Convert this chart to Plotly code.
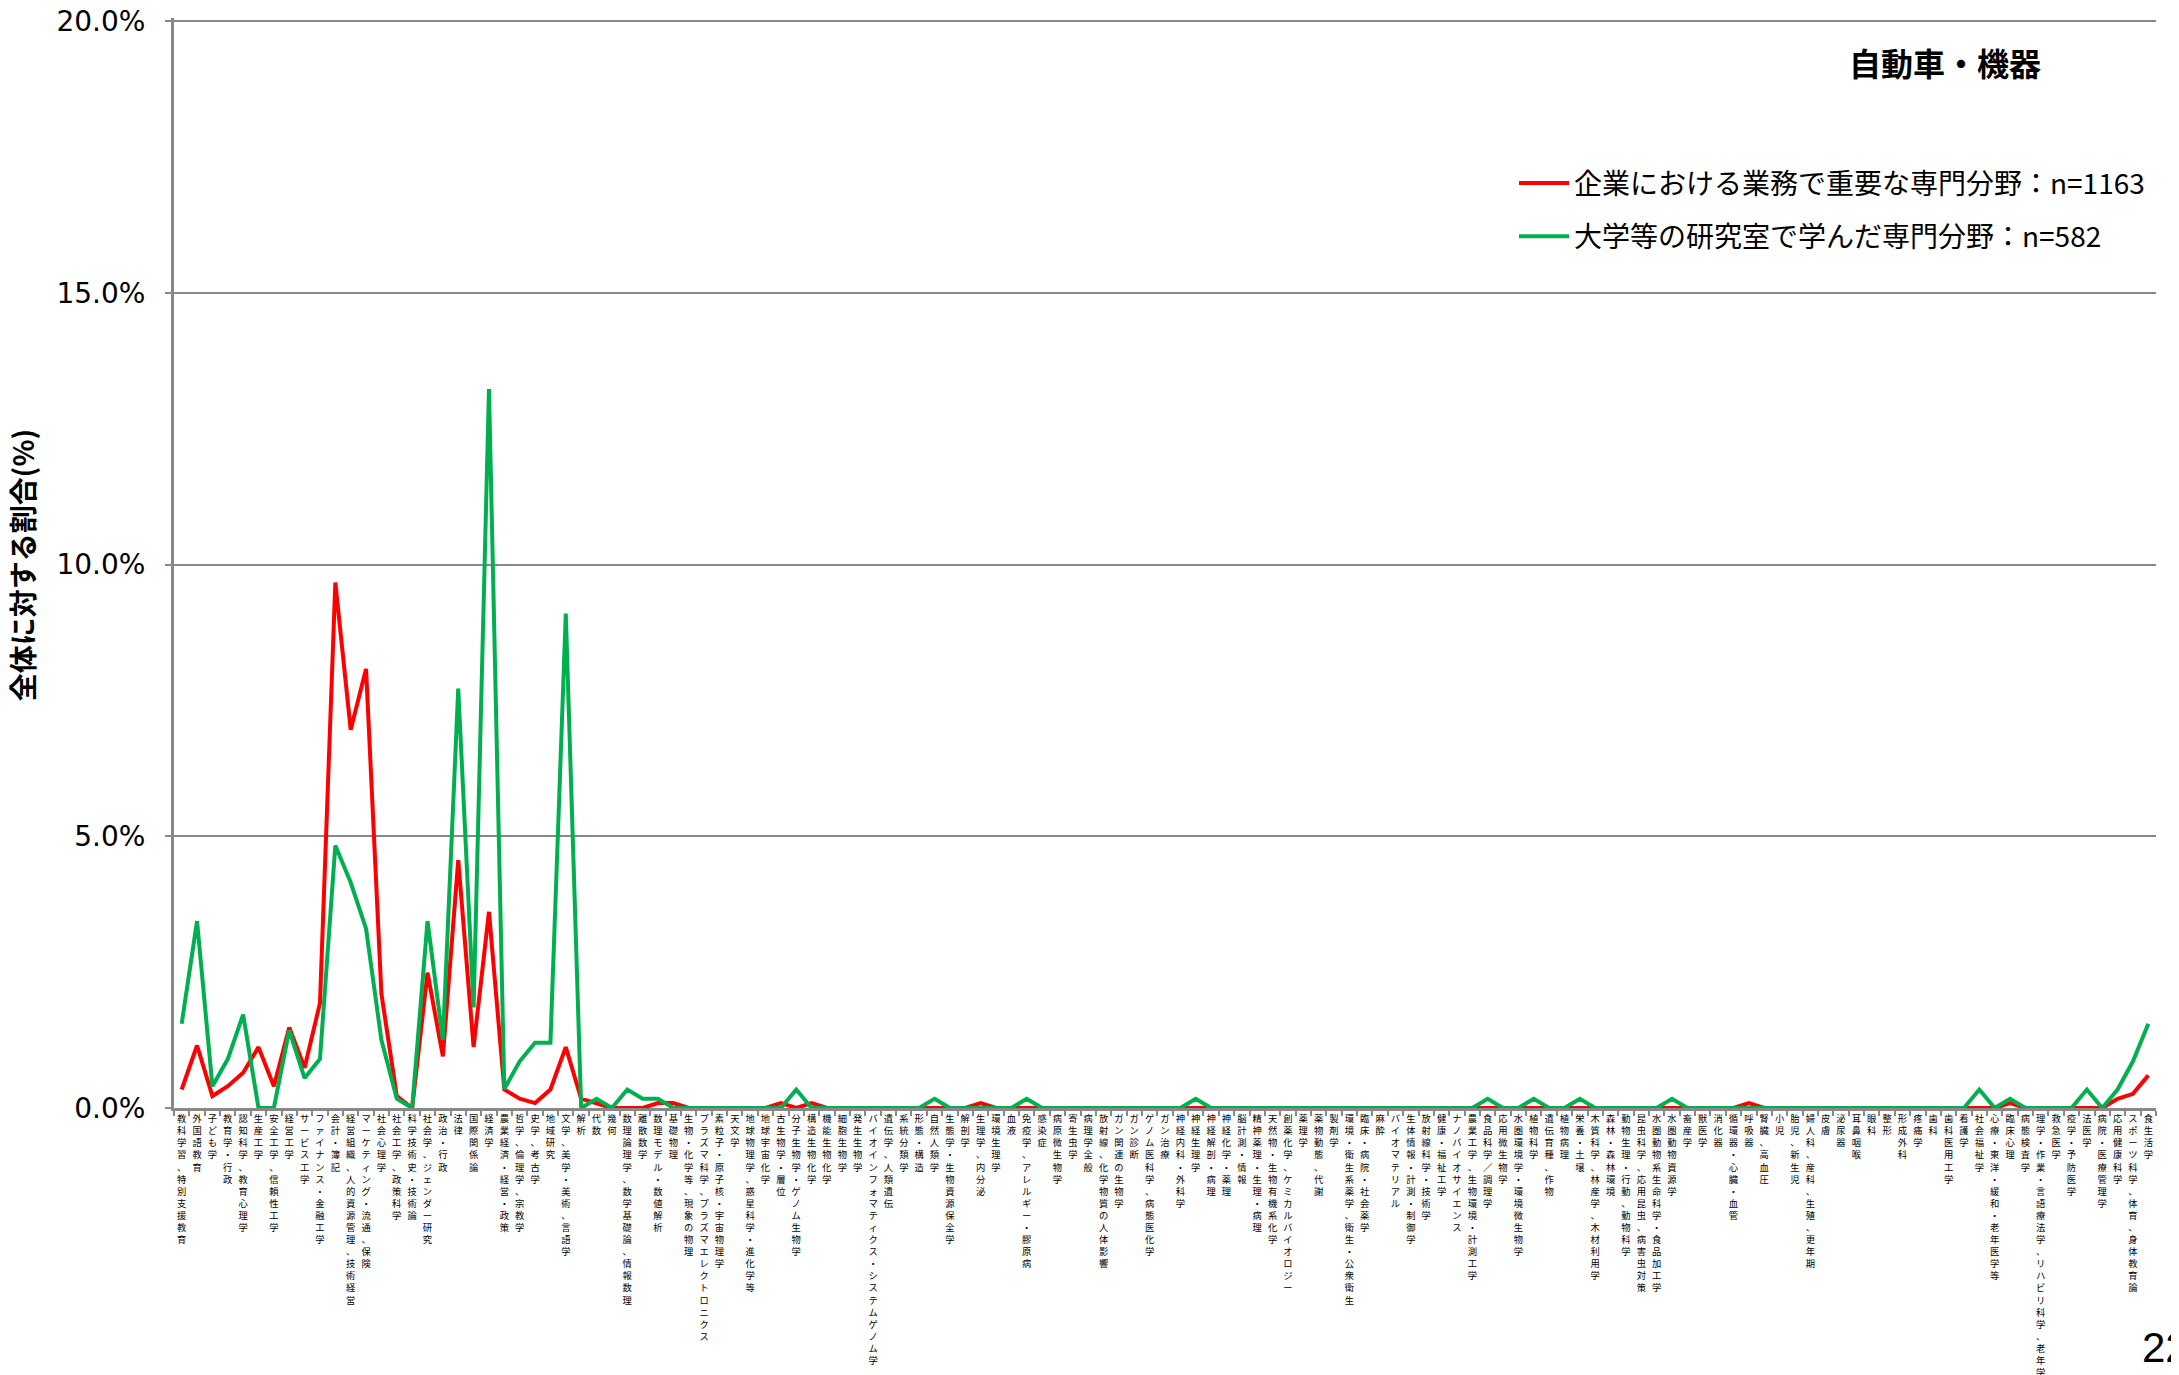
import plotly.graph_objects as go

categories = [
    "教科学習、特別支援教育", "外国語教育", "子ども学", "教育学・行政", "認知科学、教育心理学",
    "生産工学", "安全工学、信頼性工学", "経営工学", "サービス工学", "ファイナンス・金融工学",
    "会計・簿記", "経営組織、人的資源管理、技術経営", "マーケティング・流通、保険", "社会心理学", "社会工学、政策科学",
    "科学技術史・技術論", "社会学、ジェンダー研究", "政治・行政", "法律", "国際関係論",
    "経済学", "農業経済・経営・政策", "哲学、倫理学、宗教学", "史学、考古学", "地域研究",
    "文学、美学・美術、言語学", "解析", "代数", "幾何", "数理論理学、数学基礎論、情報数理",
    "離散数学", "数理モデル・数値解析", "基礎物理", "生物・化学等、現象の物理", "プラズマ科学、プラズマエレクトロニクス",
    "素粒子・原子核・宇宙物理学", "天文学", "地球物理学、惑星科学・進化学等", "地球宇宙化学", "古生物学・層位",
    "分子生物学・ゲノム生物学", "構造生物化学", "機能生物化学", "細胞生物学", "発生生物学",
    "バイオインフォマティクス・システムゲノム学", "遺伝学、人類遺伝", "系統分類学", "形態・構造", "自然人類学",
    "生態学・生物資源保全学", "解剖学", "生理学、内分泌", "環境生理学", "血液",
    "免疫学、アレルギー・膠原病", "感染症", "病原微生物学", "寄生虫学", "病理学全般",
    "放射線、化学物質の人体影響", "ガン関連の生物学", "ガン診断", "ゲノム医科学、病態医化学", "ガン治療",
    "神経内科・外科学", "神経生理学", "神経解剖・病理", "神経化学・薬理", "脳計測・情報",
    "精神薬理・生理・病理", "天然物・生物有機系化学", "創薬化学、ケミカルバイオロジー", "薬理学", "薬物動態、代謝",
    "製剤学", "環境・衛生系薬学、衛生・公衆衛生", "臨床・病院・社会薬学", "麻酔", "バイオマテリアル",
    "生体情報・計測・制御学", "放射線科学・技術学", "健康・福祉工学", "ナノバイオサイエンス", "農業工学、生物環境・計測工学",
    "食品科学／調理学", "応用微生物学", "水圏環境学・環境微生物学", "植物科学", "遺伝育種、作物",
    "植物病理", "栄養・土壌", "木質科学、林産学、木材利用学", "森林・森林環境", "動物生理・行動、動物科学",
    "昆虫科学、応用昆虫、病害虫対策", "水圏動物系生命科学・食品加工学", "水圏動物資源学", "畜産学", "獣医学",
    "消化器", "循環器・心臓・血管", "呼吸器", "腎臓、高血圧", "小児",
    "胎児、新生児", "婦人科、産科、生殖、更年期", "皮膚", "泌尿器", "耳鼻咽喉",
    "眼科", "整形", "形成外科", "疼痛学", "歯科",
    "歯科医用工学", "看護学", "社会福祉学", "心療・東洋・緩和・老年医学等", "臨床心理",
    "病態検査学", "理学・作業・言語療法学、リハビリ科学、老年学", "救急医学", "疫学・予防医学", "法医学",
    "病院・医療管理学", "応用健康科学", "スポーツ科学、体育、身体教育論", "食生活学",
]

# 企業における業務で重要な専門分野 (n=1163), %
company = [
    0.34, 1.15, 0.22, 0.40, 0.65, 1.12, 0.40, 1.48, 0.74, 1.93,
    9.67, 6.96, 8.08, 2.10, 0.22, 0.00, 2.49, 0.95, 4.56, 1.12,
    3.61, 0.34, 0.17, 0.09, 0.34, 1.12, 0.17, 0.09, 0.00, 0.00,
    0.00, 0.09, 0.09, 0.00, 0.00, 0.00, 0.00, 0.00, 0.00, 0.09,
    0.00, 0.09, 0.00, 0.00, 0.00, 0.00, 0.00, 0.00, 0.00, 0.00,
    0.00, 0.00, 0.09, 0.00, 0.00, 0.00, 0.00, 0.00, 0.00, 0.00,
    0.00, 0.00, 0.00, 0.00, 0.00, 0.00, 0.00, 0.00, 0.00, 0.00,
    0.00, 0.00, 0.00, 0.00, 0.00, 0.00, 0.00, 0.00, 0.00, 0.00,
    0.00, 0.00, 0.00, 0.00, 0.00, 0.00, 0.00, 0.00, 0.00, 0.00,
    0.00, 0.00, 0.00, 0.00, 0.00, 0.00, 0.00, 0.00, 0.00, 0.00,
    0.00, 0.00, 0.09, 0.00, 0.00, 0.00, 0.00, 0.00, 0.00, 0.00,
    0.00, 0.00, 0.00, 0.00, 0.00, 0.00, 0.00, 0.00, 0.00, 0.09,
    0.00, 0.00, 0.00, 0.00, 0.00, 0.00, 0.17, 0.26, 0.60,
]

# 大学等の研究室で学んだ専門分野 (n=582), %
university = [
    1.55, 3.44, 0.40, 0.90, 1.72, 0.00, 0.00, 1.43, 0.55, 0.90,
    4.83, 4.15, 3.30, 1.25, 0.17, 0.00, 3.44, 1.25, 7.72, 1.85,
    13.23, 0.35, 0.86, 1.20, 1.20, 9.10, 0.00, 0.17, 0.00, 0.34,
    0.17, 0.17, 0.00, 0.00, 0.00, 0.00, 0.00, 0.00, 0.00, 0.00,
    0.34, 0.00, 0.00, 0.00, 0.00, 0.00, 0.00, 0.00, 0.00, 0.17,
    0.00, 0.00, 0.00, 0.00, 0.00, 0.17, 0.00, 0.00, 0.00, 0.00,
    0.00, 0.00, 0.00, 0.00, 0.00, 0.00, 0.17, 0.00, 0.00, 0.00,
    0.00, 0.00, 0.00, 0.00, 0.00, 0.00, 0.00, 0.00, 0.00, 0.00,
    0.00, 0.00, 0.00, 0.00, 0.00, 0.17, 0.00, 0.00, 0.17, 0.00,
    0.00, 0.17, 0.00, 0.00, 0.00, 0.00, 0.00, 0.17, 0.00, 0.00,
    0.00, 0.00, 0.00, 0.00, 0.00, 0.00, 0.00, 0.00, 0.00, 0.00,
    0.00, 0.00, 0.00, 0.00, 0.00, 0.00, 0.00, 0.34, 0.00, 0.17,
    0.00, 0.00, 0.00, 0.00, 0.34, 0.00, 0.34, 0.86, 1.55,
]

series_names = [
    "企業における業務で重要な専門分野：n=1163",
    "大学等の研究室で学んだ専門分野：n=582",
]
chart_title = "自動車・機器"
y_title = "全体に対する割合(%)"
page_number = "22"

y_ticks = [0, 5, 10, 15, 20]
y_ticktext = ["0.0%", "5.0%", "10.0%", "15.0%", "20.0%"]
Y_MAX = 20.06  # a hair above 20 so the top gridline is drawn

JP = "Noto Sans CJK JP"
GRID = "#888888"

ticktext = ["<br>".join(list(c)) for c in categories]

fig = go.Figure()
fig.add_trace(go.Scatter(
    x=categories, y=company, mode="lines", name=series_names[0],
    line=dict(color="#FF0000", width=4), legendgroup="a",
))
fig.add_trace(go.Scatter(
    x=categories, y=university, mode="lines", name=series_names[1],
    line=dict(color="#00B050", width=4), legendgroup="b",
))

# page geometry (the page body has an 8px margin)
OFF = 8
W, H = 2179, 1375
Y20, PB = 21, 1108          # page y of 20% and of 0%
PL, PR = 174, 2156
unit = (PB - Y20) / 20.0
PT = PB - unit * Y_MAX
FW, FH = W - OFF, H - OFF
L = PL - OFF
R = FW - (PR - OFF)
T = PT - OFF
B = FH - (PB - OFF)
pw = PR - PL
ph = PB - PT

def px(x):
    return (x - PL) / pw

def py(y):
    return (PB - y) / ph

fig.update_layout(
    width=FW, height=FH,
    margin=dict(l=L, r=R, t=T, b=B, autoexpand=False),
    paper_bgcolor="white", plot_bgcolor="white",
    font=dict(family=JP, color="black"),
    showlegend=True,
    legend=dict(
        x=px(1514), y=py(158), xanchor="left", yanchor="top",
        font=dict(family=JP, size=28, color="black"),
        bgcolor="rgba(0,0,0,0)", tracegroupgap=14,
        itemwidth=50,
    ),
    xaxis=dict(
        type="category", range=[-0.5, len(categories) - 0.5],
        tickvals=categories, ticktext=ticktext, tickangle=0,
        tickfont=dict(family=JP, size=9.3, color="black"),
        showline=True, linecolor=GRID, linewidth=3,
        ticks="outside", ticklen=5, tickcolor=GRID, tickwidth=1.5,
        tickson="boundaries", showgrid=False, zeroline=False,
        automargin=False,
    ),
    yaxis=dict(
        range=[0, Y_MAX], tickvals=y_ticks, ticktext=y_ticktext,
        tickfont=dict(family="DejaVu Sans", size=28, color="black"),
        showgrid=True, gridcolor=GRID, gridwidth=1.5,
        showline=True, linecolor=GRID, linewidth=3,
        ticks="outside", ticklen=6, tickcolor=GRID, tickwidth=1.5,
        ticklabelstandoff=14, ticklabeloverflow="allow",
        zeroline=False, automargin=False,
    ),
    annotations=[
        dict(text="<b>" + chart_title + "</b>", xref="paper", yref="paper",
             x=px(1945), y=py(62), xanchor="center", yanchor="middle",
             showarrow=False, font=dict(family=JP, size=32, color="black")),
        dict(text="<b>" + y_title + "</b>", xref="paper", yref="paper",
             x=px(22), y=py(565), xanchor="center", yanchor="middle", textangle=-90,
             showarrow=False, font=dict(family=JP, size=28, color="black")),
        dict(text=page_number, xref="paper", yref="paper",
             x=px(2140), y=py(1348), xanchor="left", yanchor="middle",
             showarrow=False, font=dict(family="Liberation Sans", size=42, color="black")),
    ],
)

fig.write_html("out.html")
